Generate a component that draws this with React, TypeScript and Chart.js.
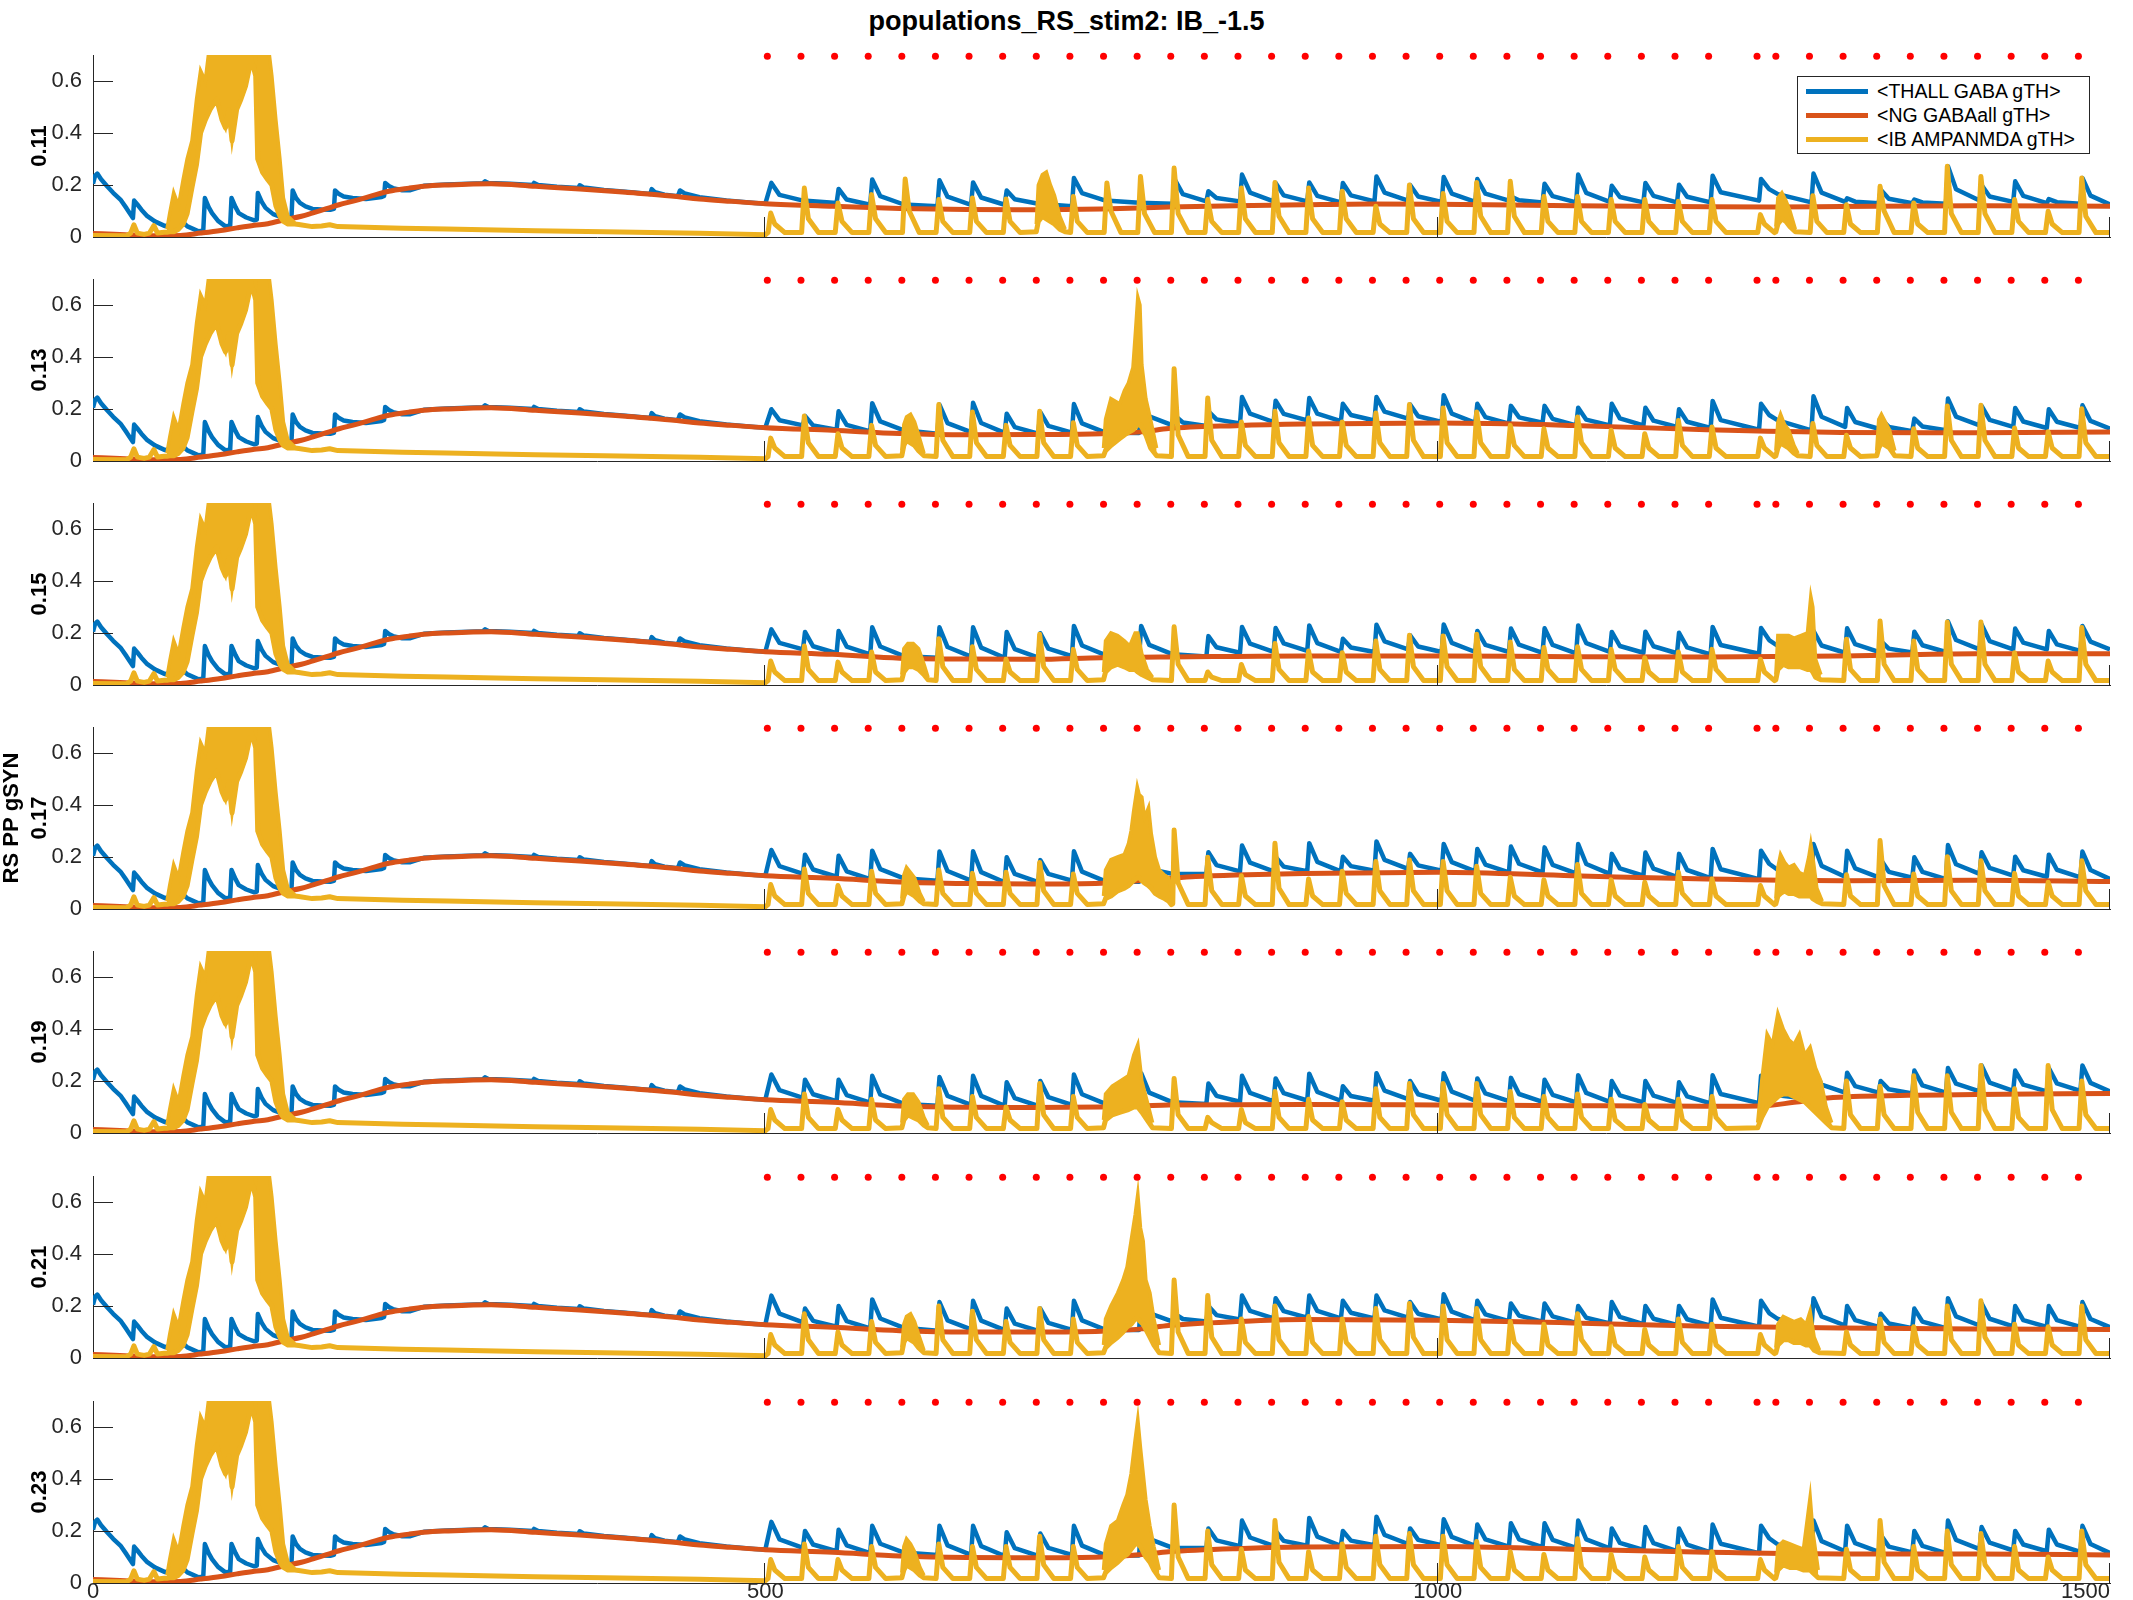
import React, { useEffect, useRef } from 'react';
import { Chart, registerables } from 'chart.js';
Chart.register(...registerables);

// ---------------- data ----------------
const TITLE = 'populations_RS_stim2: IB_-1.5';
const seriesNames = ['<THALL GABA gTH>', '<NG GABAall gTH>', '<IB AMPANMDA gTH>'];
const panelLabels: (string | string[])[] = ['0.11', '0.13', '0.15', ['RS PP gSYN', '0.17'], '0.19', '0.21', '0.23'];
const xTickValues = [0, 500, 1000, 1500];
const xTickLabels = ['0', '500', '1000', '1500'];
const yTickValues = [0, 0.2, 0.4, 0.6];
const yTickLabels = ['0', '0.2', '0.4', '0.6'];

const stimTimes = [501.5, 526.5, 551.5, 576.5, 601.5, 626.5, 651.5, 676.5, 701.5, 726.5, 751.5, 776.5, 801.5, 826.5, 851.5, 876.5, 901.5, 926.5, 951.5, 976.5, 1001.5, 1026.5, 1051.5, 1076.5, 1101.5, 1126.5, 1151.5, 1176.5, 1201.5, 1237.5, 1251.5, 1276.5, 1301.5, 1326.5, 1351.5, 1376.5, 1401.5, 1426.5, 1451.5, 1476.5];
const stimMarkerLevel = 0.695;
const yellowFloor = 0.017;

// shared first 500 ms
const earlyBlue = [[0,.205],[1.5,.235],[3.2,.244],[6,.222],[10.5,.195],[15,.17],[20.4,.144],[25,.11],[29.7,.073],[30.6,.14],[33,.125],[36,.105],[40.4,.08],[46,.06],[53.6,.042],[57.5,.045],[59.5,.1],[63,.075],[70.2,.041],[78.5,.022],[82,.024],[83.2,.15],[86,.115],[88.5,.092],[93,.062],[98.5,.041],[102,.043],[103,.15],[106,.115],[108.4,.092],[114,.075],[120,.064],[121.8,.067],[122.6,.169],[125.5,.135],[128.3,.112],[134,.088],[141.6,.073],[147.6,.075],[148.5,.179],[151,.15],[153.9,.131],[158,.118],[163.2,.108],[170,.106],[176.5,.105],[179.2,.108],[180,.179],[183,.165],[186.4,.156],[193,.15],[203,.146],[214.7,.154],[216.5,.158],[217.3,.208],[220,.196],[223,.188],[230,.18],[236,.18],[246,.197],[263,.202],[285,.206],[290,.207],[291.5,.214],[294,.208],[310,.205],[327,.2],[328,.208],[331,.2],[345,.193],[361,.188],[362,.199],[365,.19],[380,.181],[396,.174],[414.5,.165],[415.5,.184],[418,.172],[425,.163],[435,.157],[436.5,.179],[440,.168],[451,.153],[471,.14],[490,.132],[500,.128]];
const earlyOrange = [[0,.013],[20,.01],[45,.005],[65,.006],[80,.015],[95,.025],[107,.035],[120,.045],[130,.051],[143,.067],[155,.08],[163,.092],[173,.108],[183,.124],[195,.14],[206,.156],[220,.176],[235,.188],[246,.195],[263,.2],[296,.205],[329,.195],[362,.185],[396,.172],[430,.158],[451,.146],[475,.137],[500,.128]];
const earlyYellow = [[0,.006],[25,.005],[28,.015],[30.4,.047],[33,.015],[38,.01],[42,.015],[45.3,.044],[48,.015],[53,.018],[153,.048],[163,.04],[170,.042],[176,.047],[182,.04],[196,.038],[230,.034],[263,.031],[300,.027],[329,.024],[380,.02],[451,.014],[500,.009]];
const earlyYellowBurst = [[55,.018,.03],[57,.02,.09],[60,.02,.17],[63.6,.03,.12],[67,.05,.22],[70,.09,.3],[73.6,.19,.37],[77,.28,.53],[80,.4,.64],[83.5,.45,.6],[87,.49,.75],[92,.53,.75],[96,.45,.75],[98.5,.42,.75],[101,.49,.75],[103.4,.37,.75],[106.8,.49,.75],[110,.53,.75],[113.4,.58,.75],[116.7,.66,.75],[119,.66,.72],[121,.62,.68],[122.5,.3,.75],[126,.25,.75],[130,.22,.75],[133,.2,.62],[136,.12,.45],[139,.08,.3],[141.6,.06,.15],[145,.05,.08],[150,.05,.055]];

// panel 1 (0.11)
const bluePeak1 = [.208,0,.185,.221,0,.218,.210,.179,0,.227,0,0,.221,.176,.240,.208,.210,.208,.233,.200,.231,.223,.156,.205,.240,.197,.208,.201,.236,.223,0,.244,.149,.182,.144,.272,.200,.214,.146,.227];
const blueKnee1 = [.162,0,.144,.157,0,.155,.152,.145,0,.169,0,0,.165,.150,.171,.160,.158,.160,.171,.156,.167,.167,.141,.157,.170,.154,.158,.155,.172,.184,0,.171,.136,.147,.133,.184,.156,.158,.134,.159];
const blueTrough1 = [.140,.131,.124,.125,.118,.124,.124,.128,.118,.140,.132,.128,.137,.137,.137,.137,.133,.137,.140,.135,.135,.140,.133,.133,.135,.133,.133,.133,.140,.165,.133,.135,.130,.130,.128,.140,.135,.130,.128,.125];
const yellowPeak1 = [.092,.188,.131,.163,.223,.144,.150,.146,0,.156,.208,.233,.265,.144,.188,.210,.188,.176,.118,.200,.167,.210,.214,.156,.156,.144,.144,.137,.144,.086,0,.159,.124,.195,.131,.272,.233,.144,.099,.227];
const yellowShoulder1 = [.05,.07,.06,.07,.10,.06,.06,.06,0,.06,.10,.09,.09,.06,.07,.08,.07,.07,.05,.07,.06,.08,.08,.06,.06,.06,.06,.06,.06,.05,0,.06,.05,.10,.05,.09,.09,.06,.05,.08];
const burstA1 = [[701.5,.02,.05],[703,.06,.2],[706,.08,.24],[709,.07,.25],[712,.06,.2],[715,.05,.16],[719,.03,.08],[723,.02,.03]];
const burstB1 = [[1251.5,.02,.04],[1253,.05,.15],[1256,.07,.17],[1259,.06,.14],[1262,.04,.1],[1266,.02,.03]];
const orange1 = [[550,.118],[600,.11],[650,.106],[700,.105],[750,.108],[800,.115],[850,.12],[900,.124],[950,.127],[1000,.126],[1100,.12],[1200,.116],[1250,.115],[1300,.117],[1400,.12],[1500,.118]];

// panel 2 (0.13)
const bluePeak2 = [.199,.173,.191,.222,0,.217,.224,.182,.188,.219,0,.242,.175,.191,.246,.232,.242,.220,.246,.217,.253,.220,.212,.212,.205,.220,.205,.199,.231,.220,0,.249,.204,.163,.163,.240,.212,.204,.199,.214];
const blueKnee2 = [.157,.137,.139,.152,0,.146,.146,.130,.135,.145,0,.172,.148,.160,.182,.181,.182,.177,.190,.172,.182,.169,.168,.162,.159,.164,.155,.151,.157,.177,0,.170,.150,.131,.133,.171,.158,.152,.151,.154];
const blueTrough2 = [.137,.120,.114,.118,.105,.111,.108,.105,.109,.109,.108,.137,.135,.144,.150,.156,.153,.156,.163,.150,.147,.144,.147,.137,.137,.137,.131,.127,.120,.156,.118,.131,.124,.115,.118,.137,.131,.127,.127,.124];
const yellowPeak2 = [.088,.173,.105,.137,0,.217,.188,.137,.191,.147,0,0,.355,.242,.150,.191,.165,.150,.185,.217,.204,.188,.137,.124,.169,.118,.105,.156,.131,.088,0,.144,.099,0,.124,.212,.214,.127,.112,.201];
const yellowShoulder2 = [.05,.07,.05,.06,0,.08,.07,.06,.07,.06,0,0,.10,.08,.06,.07,.06,.06,.07,.08,.07,.07,.06,.05,.07,.05,.05,.06,.05,.05,0,.06,.05,0,.05,.08,.08,.05,.05,.07];
const burstA2 = [[601.5,.02,.04],[603,.06,.14],[605,.08,.17],[608,.07,.18],[611,.06,.15],[614,.04,.1],[618,.02,.03]];
const burstB2 = [[751.5,.02,.05],[753,.04,.16],[757,.06,.24],[763.5,.086,.22],[767,.1,.27],[770,.11,.3],[773.4,.12,.36],[775.3,.13,.5],[777,.14,.63],[778.6,.14,.6],[780,.13,.37],[783,.1,.24],[786.5,.05,.16],[791,.02,.05]];
const burstC2 = [[1251.5,.02,.04],[1253,.05,.15],[1255,.07,.18],[1258,.06,.14],[1261,.05,.12],[1265,.03,.06],[1268,.02,.03]];
const burstD2 = [[1326.5,.02,.04],[1328,.05,.16],[1330,.07,.18],[1333,.06,.15],[1336,.05,.12],[1340,.02,.04]];
const orange2 = [[550,.118],[600,.106],[650,.101],[700,.102],[750,.105],[780,.112],[800,.125],[850,.136],[900,.142],[1000,.146],[1100,.137],[1200,.12],[1300,.11],[1400,.109],[1500,.112]];

// panel 3 (0.15)
const bluePeak3 = [.214,.204,.208,.222,0,.222,.222,.204,.199,.227,0,.227,0,.188,.223,.219,.229,.178,.232,.191,.233,.208,.217,.218,.229,.204,.205,.201,.223,.219,0,.208,.218,.170,.205,.245,.233,.217,.208,.227];
const blueKnee3 = [.162,.149,.148,.148,0,.146,.144,.138,.140,.152,0,.154,0,.145,.159,.160,.161,.144,.168,.148,.162,.154,.155,.154,.161,.150,.149,.145,.154,.173,0,.152,.157,.140,.153,.173,.169,.163,.156,.167];
const blueTrough3 = [.137,.122,.118,.111,.105,.109,.105,.105,.111,.115,.110,.118,.110,.124,.127,.131,.127,.127,.137,.127,.127,.127,.124,.122,.127,.124,.122,.118,.120,.150,.120,.124,.127,.125,.127,.137,.137,.137,.131,.137];
const yellowPeak3 = [.092,.150,.088,.127,0,.178,.147,.099,.195,.137,0,0,.224,.050,.079,.160,.131,.124,.169,.191,.188,.195,.165,.144,.147,.137,.105,.127,.137,.099,0,0,.176,.246,.169,.242,.242,.124,.092,.221];
const yellowShoulder3 = [.05,.06,.05,.05,0,.07,.06,.05,.07,.06,0,0,.08,.03,.04,.06,.05,.05,.06,.07,.07,.07,.06,.06,.06,.06,.05,.05,.06,.05,0,0,.06,.08,.06,.08,.08,.05,.05,.08];
const burstA3 = [[601.5,.02,.04],[603,.05,.14],[606,.07,.16],[610,.07,.16],[614,.06,.14],[618,.04,.08],[621,.02,.03]];
const burstB3 = [[751.5,.02,.05],[753,.05,.17],[757,.07,.2],[762,.08,.19],[767,.07,.17],[771,.06,.15],[775,.06,.2],[777,.05,.2],[780,.04,.12],[784,.03,.06],[788,.02,.03]];
const burstC3 = [[1251.5,.02,.04],[1253,.06,.19],[1257,.08,.19],[1261,.07,.19],[1265,.07,.18],[1270,.07,.19],[1275,.06,.2],[1277.5,.06,.34],[1279,.05,.3],[1281,.03,.1],[1285,.02,.04]];
const orange3 = [[550,.118],[600,.103],[650,.1],[700,.099],[750,.105],[800,.108],[850,.11],[900,.112],[1000,.112],[1100,.109],[1200,.108],[1300,.112],[1400,.12],[1500,.12]];

// panel 4 (0.17)
const bluePeak4 = [.227,.209,.205,.224,0,.221,.222,.199,.188,.222,0,.192,0,.218,.244,.200,.253,.201,.260,.212,.250,.231,.240,.237,.250,.212,.217,.212,.231,.224,0,.250,.224,.190,.199,.246,.218,.201,.209,.221];
const blueKnee4 = [.165,.152,.145,.153,0,.146,.142,.135,.135,.144,0,.154,0,.169,.178,.163,.181,.165,.189,.168,.180,.171,.174,.170,.173,.156,.155,.150,.153,.174,0,.166,.156,.143,.143,.172,.158,.149,.151,.150];
const blueTrough4 = [.135,.124,.115,.118,.109,.109,.103,.103,.109,.106,.105,.135,.135,.145,.145,.145,.145,.147,.154,.147,.145,.141,.141,.137,.135,.128,.124,.119,.115,.150,.118,.124,.122,.120,.115,.135,.128,.124,.122,.115];
const yellowPeak4 = [.094,.154,.090,.145,0,.150,.137,.141,.179,.135,0,0,.304,.199,.128,.253,.115,.145,.183,.188,.183,.164,.122,.112,.171,.112,.103,.141,.115,.090,0,0,.132,.263,.135,.201,.186,.137,.103,.186];
const yellowShoulder4 = [.05,.06,.05,.06,0,.06,.06,.06,.07,.06,0,0,.10,.07,.05,.08,.05,.06,.07,.07,.07,.06,.05,.05,.06,.05,.05,.06,.05,.05,0,0,.05,.09,.05,.07,.07,.05,.05,.07];
const burstA4 = [[601.5,.02,.04],[603,.05,.13],[605,.07,.16],[608,.06,.14],[611,.05,.12],[615,.03,.06],[618,.02,.03]];
const burstB4 = [[751.5,.02,.05],[753,.04,.15],[757,.05,.19],[762,.07,.2],[767,.08,.21],[770,.09,.25],[772,.1,.3],[774,.11,.38],[776.6,.12,.47],[778,.12,.44],[780,.11,.43],[782,.1,.35],[785,.09,.39],[787,.08,.29],[790,.06,.2],[793,.05,.15],[797,.04,.13],[800,.03,.12],[803,.02,.04]];
const burstC4 = [[1251.5,.02,.04],[1253,.05,.16],[1255,.06,.21],[1258,.07,.18],[1261,.06,.16],[1265,.06,.17],[1269,.05,.14],[1273,.05,.13],[1276,.05,.2],[1277.5,.05,.25],[1279,.04,.2],[1282,.03,.08],[1286,.02,.03]];
const orange4 = [[550,.118],[600,.104],[650,.098],[700,.096],[750,.099],[777,.109],[800,.118],[820,.125],[850,.131],[900,.137],[1000,.141],[1100,.128],[1200,.115],[1300,.109],[1400,.111],[1500,.106]];

// panel 5 (0.19)
const bluePeak5 = [.225,.205,.205,.22,0,.215,.22,.195,.2,.225,0,.23,0,.19,.22,.21,.228,.18,.23,.2,.23,.21,.212,.205,.222,.2,.2,.195,.222,.22,0,.25,.232,.2,.24,.25,.26,.24,.25,.26];
const blueKnee5 = [.165,.149,.146,.148,0,.143,.143,.134,.138,.149,0,.155,0,.143,.154,.153,.158,.142,.163,.149,.159,.152,.150,.147,.154,.145,.144,.141,.150,.170,0,.186,.180,.168,.183,.190,.194,.186,.191,.193];
const blueTrough5 = [.135,.122,.117,.112,.105,.108,.105,.104,.108,.112,.108,.118,.112,.12,.122,.125,.124,.124,.13,.124,.124,.123,.12,.118,.12,.118,.116,.114,.115,.145,.13,.155,.155,.152,.155,.16,.162,.16,.162,.16];
const yellowPeak5 = [.09,.15,.09,.13,0,.17,.14,.1,.19,.14,0,0,.21,.06,.09,.16,.13,.12,.17,.19,.19,.19,.16,.14,.15,.13,.11,.13,.14,0,0,0,.2,.18,.22,.22,.26,.17,.26,.2];
const yellowShoulder5 = [.05,.06,.05,.05,0,.06,.06,.05,.07,.06,0,0,.07,.04,.04,.06,.05,.05,.06,.07,.07,.07,.06,.06,.06,.05,.05,.05,.06,0,0,0,.07,.07,.08,.08,.09,.06,.09,.07];
const burstA5 = [[601.5,.02,.04],[603,.05,.13],[606,.07,.15],[610,.06,.15],[614,.05,.12],[618,.03,.06],[621,.02,.03]];
const burstB5 = [[751.5,.02,.05],[753,.05,.15],[758,.07,.18],[764,.08,.2],[770,.09,.22],[774,.1,.3],[777,.1,.34],[780,.08,.2],[784,.05,.12],[788,.02,.04]];
const burstC5 = [[1238,.02,.04],[1241,.06,.2],[1245,.1,.38],[1249,.12,.34],[1253,.14,.46],[1257,.15,.4],[1261,.15,.36],[1265,.14,.34],[1269,.13,.38],[1273,.12,.3],[1277,.1,.33],[1281,.08,.25],[1285,.06,.2],[1289,.04,.1],[1293,.02,.04]];
const orange5 = [[550,.118],[600,.104],[650,.099],[700,.098],[750,.1],[780,.104],[800,.108],[900,.11],[1000,.108],[1100,.105],[1200,.103],[1240,.104],[1265,.118],[1290,.135],[1350,.145],[1400,.148],[1500,.152]];

// panel 6 (0.21)
const bluePeak6 = [.24,.19,.2,.225,0,.215,.22,.19,.19,.22,0,.24,.17,.2,.24,.23,.24,.22,.24,.215,.245,.22,.21,.21,.2,.215,.2,.2,.225,.22,0,.23,.2,.17,.19,.23,.21,.2,.2,.215];
const blueKnee6 = [.171,.143,.142,.152,0,.145,.144,.132,.135,.145,0,.173,.150,.165,.181,.180,.181,.174,.183,.170,.178,.168,.163,.160,.155,.158,.151,.149,.155,.173,0,.160,.146,.133,.140,.160,.151,.146,.146,.150];
const blueTrough6 = [.137,.12,.114,.116,.105,.11,.107,.104,.108,.108,.108,.14,.14,.148,.152,.155,.152,.152,.155,.148,.145,.142,.14,.135,.133,.13,.127,.124,.12,.15,.118,.125,.12,.115,.115,.125,.122,.12,.12,.118];
const yellowPeak6 = [.09,.17,.1,.14,0,.2,.18,.14,.19,.15,0,0,.3,.24,.15,.2,.16,.15,.19,.21,.2,.19,.14,.13,.17,.12,.11,.15,.13,.09,0,0,.1,.15,.12,.2,.22,.13,.12,.2];
const yellowShoulder6 = [.05,.07,.05,.06,0,.07,.07,.06,.07,.06,0,0,.1,.08,.06,.07,.06,.06,.07,.08,.07,.07,.06,.05,.07,.05,.05,.06,.05,.05,0,0,.05,.06,.05,.07,.08,.05,.05,.07];
const burstA6 = [[601.5,.02,.04],[603,.06,.13],[605,.08,.16],[608,.07,.17],[611,.06,.14],[614,.04,.09],[618,.02,.03]];
const burstB6 = [[751.5,.02,.05],[753,.04,.15],[757,.06,.2],[762,.08,.25],[766,.1,.3],[769,.12,.35],[772,.13,.45],[775,.15,.55],[777,.15,.63],[779,.14,.5],[781,.13,.45],[783,.11,.3],[786,.08,.25],[789,.05,.15],[793,.02,.05]];
const burstC6 = [[1251.5,.02,.04],[1253,.05,.13],[1257,.07,.16],[1261,.07,.15],[1265,.06,.14],[1270,.06,.15],[1274,.05,.13],[1277,.05,.18],[1280,.03,.08],[1284,.02,.03]];
const orange6 = [[550,.118],[600,.105],[650,.1],[700,.1],[750,.103],[780,.112],[800,.125],[850,.14],[900,.148],[1000,.145],[1100,.135],[1200,.122],[1300,.115],[1400,.112],[1500,.11]];

// panel 7 (0.23)
const bluePeak7 = [.235,.2,.205,.22,0,.22,.22,.195,.19,.22,0,.24,0,.21,.24,.2,.25,.2,.255,.21,.245,.225,.23,.23,.24,.21,.215,.21,.225,.22,0,.24,.22,.185,.2,.24,.215,.2,.205,.22];
const blueKnee7 = [.168,.148,.145,.151,0,.145,.142,.134,.135,.144,0,.170,0,.164,.175,.162,.178,.163,.185,.166,.177,.168,.168,.166,.168,.154,.153,.148,.151,.172,0,.161,.153,.140,.143,.166,.155,.148,.148,.150];
const blueTrough7 = [.135,.122,.115,.117,.108,.108,.104,.104,.108,.106,.106,.135,.135,.142,.143,.143,.143,.145,.15,.145,.143,.14,.138,.135,.133,.127,.123,.118,.115,.148,.116,.122,.12,.118,.115,.13,.125,.122,.12,.115];
const yellowPeak7 = [.09,.15,.09,.14,0,.15,.14,.14,.18,.14,0,0,.3,.2,.13,.24,.12,.15,.18,.19,.18,.16,.12,.11,.17,.11,.1,.14,.12,.09,0,0,.13,.24,.14,.2,.19,.14,.1,.2];
const yellowShoulder7 = [.05,.06,.05,.06,0,.06,.06,.06,.07,.06,0,0,.1,.07,.05,.08,.05,.06,.07,.07,.07,.06,.05,.05,.06,.05,.05,.06,.05,.05,0,0,.05,.08,.05,.07,.07,.05,.05,.07];
const burstA7 = [[601.5,.02,.04],[603,.05,.14],[605,.07,.17],[608,.06,.15],[611,.05,.12],[615,.03,.06],[618,.02,.03]];
const burstB7 = [[751.5,.02,.05],[753,.04,.15],[757,.06,.22],[762,.08,.24],[766,.1,.3],[769,.11,.34],[772,.13,.42],[775,.15,.55],[777,.15,.63],[779,.14,.52],[781,.12,.42],[783,.1,.32],[786,.08,.22],[789,.05,.14],[793,.02,.05]];
const burstC7 = [[1251.5,.02,.04],[1253,.05,.14],[1257,.07,.16],[1262,.06,.15],[1267,.06,.14],[1272,.05,.13],[1275,.05,.25],[1277,.05,.33],[1279,.04,.2],[1283,.02,.05]];
const orange7 = [[550,.118],[600,.104],[650,.098],[700,.097],[750,.1],[780,.11],[800,.12],[850,.132],[900,.138],[1000,.14],[1100,.13],[1200,.118],[1300,.112],[1400,.112],[1500,.108]];

const BLUE = '#0072BD';
const ORANGE = '#D95319';
const YELLOW = '#EDB120';
const RED = '#FF0000';
const AXIS = '#262626';
const FONT = "'Liberation Sans', Arial, sans-serif";

const panels = [
  { bluePeak: bluePeak1, blueKnee: blueKnee1, blueTrough: blueTrough1, yellowPeak: yellowPeak1, yellowShoulder: yellowShoulder1, bursts: [burstA1, burstB1], orange: orange1 },
  { bluePeak: bluePeak2, blueKnee: blueKnee2, blueTrough: blueTrough2, yellowPeak: yellowPeak2, yellowShoulder: yellowShoulder2, bursts: [burstA2, burstB2, burstC2, burstD2], orange: orange2 },
  { bluePeak: bluePeak3, blueKnee: blueKnee3, blueTrough: blueTrough3, yellowPeak: yellowPeak3, yellowShoulder: yellowShoulder3, bursts: [burstA3, burstB3, burstC3], orange: orange3 },
  { bluePeak: bluePeak4, blueKnee: blueKnee4, blueTrough: blueTrough4, yellowPeak: yellowPeak4, yellowShoulder: yellowShoulder4, bursts: [burstA4, burstB4, burstC4], orange: orange4 },
  { bluePeak: bluePeak5, blueKnee: blueKnee5, blueTrough: blueTrough5, yellowPeak: yellowPeak5, yellowShoulder: yellowShoulder5, bursts: [burstA5, burstB5, burstC5], orange: orange5 },
  { bluePeak: bluePeak6, blueKnee: blueKnee6, blueTrough: blueTrough6, yellowPeak: yellowPeak6, yellowShoulder: yellowShoulder6, bursts: [burstA6, burstB6, burstC6], orange: orange6 },
  { bluePeak: bluePeak7, blueKnee: blueKnee7, blueTrough: blueTrough7, yellowPeak: yellowPeak7, yellowShoulder: yellowShoulder7, bursts: [burstA7, burstB7, burstC7], orange: orange7 },
];

// ---------------- layout ----------------
const PANEL_TOPS = [55, 279, 503, 727, 951, 1176, 1401];
const PLOT_H = 182;
const X_LABEL_H = 1600 - PANEL_TOPS[6] - PLOT_H;
function geom(i: number) {
  if (i === 6) {
    const top = PANEL_TOPS[6] - 25;
    return { top, h: 1600 - top, padTop: 25, padBottom: 0, xh: X_LABEL_H };
  }
  return { top: PANEL_TOPS[i] - 25, h: 25 + PLOT_H + 25, padTop: 25, padBottom: 25, xh: 0 };
}

// ---------------- builders ----------------
function buildBlue(p: any) {
  const pts = earlyBlue.map(([x, y]) => ({ x, y }));
  stimTimes.forEach((t, k) => {
    const tn = k + 1 < stimTimes.length ? stimTimes[k + 1] : 1500;
    if (p.bluePeak[k] > 0) {
      pts.push({ x: t + 3, y: p.bluePeak[k] });
      pts.push({ x: t + 9, y: p.blueKnee[k] });
    }
    pts.push({ x: Math.min(tn + 1.5, 1500), y: p.blueTrough[k] });
  });
  return pts;
}
function buildYellow(p: any) {
  const pts = earlyYellow.map(([x, y]) => ({ x, y }));
  stimTimes.forEach((t, k) => {
    if (p.yellowPeak[k] > 0) {
      pts.push({ x: t + 0.5, y: yellowFloor }, { x: t + 2.5, y: p.yellowPeak[k] }, { x: t + 5.5, y: p.yellowShoulder[k] }, { x: t + 13, y: yellowFloor });
    }
  });
  [earlyYellowBurst, ...p.bursts].forEach((b: number[][]) => b.forEach(([x, lo]) => pts.push({ x, y: lo })));
  pts.push({ x: 1500, y: yellowFloor });
  return pts.sort((a, b) => a.x - b.x);
}
function buildOrange(p: any) {
  return [...earlyOrange, ...p.orange].map(([x, y]) => ({ x, y }));
}

const inwardTicks = {
  id: 'inwardTicks',
  afterLayout(chart: any) {
    // the right-aligned "1500" label axis shares the band just under the plot
    const s = chart.scales.xEnd;
    if (s) { s.top = chart.chartArea.bottom; s.bottom = s.top + X_LABEL_H; }
  },
  afterDatasetsDraw(chart: any) {
    const { ctx, chartArea, scales } = chart;
    ctx.save();
    ctx.strokeStyle = AXIS;
    ctx.lineWidth = 1;
    ctx.beginPath();
    yTickValues.forEach((v) => {
      if (v === 0) return;
      const y = Math.round(scales.y.getPixelForValue(v)) + 0.5;
      ctx.moveTo(chartArea.left, y);
      ctx.lineTo(chartArea.left + 20, y);
    });
    xTickValues.forEach((v) => {
      if (v === 0) return;
      const x = Math.round(scales.x.getPixelForValue(v)) - 0.5;
      ctx.moveTo(x, chartArea.bottom);
      ctx.lineTo(x, chartArea.bottom - 20);
    });
    ctx.stroke();
    ctx.restore();
  },
};

function makeDatasets(p: any) {
  const ds: any[] = [];
  ds.push({
    label: 'stim', data: stimTimes.map((t) => ({ x: t, y: stimMarkerLevel })), showLine: false,
    pointRadius: 3.5, pointBackgroundColor: RED, pointBorderWidth: 0, pointBorderColor: RED, order: 0, clip: false,
  });
  ds.push({ label: seriesNames[2], data: buildYellow(p), borderColor: YELLOW, borderWidth: 5, pointRadius: 0, order: 1, clip: 0, borderJoinStyle: 'round' });
  [earlyYellowBurst, ...p.bursts].forEach((b: number[][]) => {
    ds.push({ label: 'band', data: b.map(([x, , hi]) => ({ x, y: hi })), borderColor: YELLOW, backgroundColor: YELLOW, borderWidth: 3.5, pointRadius: 0, fill: '+1', order: 1, clip: 0 });
    ds.push({ label: 'band', data: b.map(([x, lo]) => ({ x, y: lo })), borderColor: YELLOW, borderWidth: 3.5, pointRadius: 0, fill: false, order: 1, clip: 0 });
  });
  ds.push({ label: seriesNames[1], data: buildOrange(p), borderColor: ORANGE, borderWidth: 5, pointRadius: 0, order: 2, cubicInterpolationMode: 'monotone' });
  ds.push({ label: seriesNames[0], data: buildBlue(p), borderColor: BLUE, borderWidth: 4.5, pointRadius: 0, order: 3, borderJoinStyle: 'round' });
  return ds;
}

function makeConfig(p: any, i: number): any {
  const g = geom(i);
  const isLast = i === 6;
  const label = panelLabels[i];
  const multi = Array.isArray(label);
  const tickFont = { family: FONT, size: 22 };
  return {
    type: 'line',
    data: { datasets: makeDatasets(p) },
    options: {
      responsive: false, animation: false, devicePixelRatio: 1, events: [],
      layout: { padding: { left: 0, right: 23, top: g.padTop, bottom: g.padBottom } },
      plugins: {
        legend: { display: false },
        tooltip: { enabled: false },
        title: { display: false },
      },
      scales: {
        x: {
          type: 'linear', min: 0, max: 1500, position: 'bottom', weight: 0,
          grid: { display: false, drawTicks: false },
          border: { display: true, color: AXIS, width: 1 },
          afterBuildTicks: (s: any) => { s.ticks = xTickValues.slice(0, 3).map((v) => ({ value: v })); },
          ticks: {
            display: isLast, autoSkip: false, maxRotation: 0, padding: -4, color: AXIS, align: 'center',
            font: tickFont,
            callback: (v: number) => xTickLabels[xTickValues.indexOf(v)] ?? '',
          },
          afterFit: (s: any) => { s.height = g.xh; s.paddingLeft = 0; s.paddingRight = 0; },
        },
        xEnd: {
          type: 'linear', min: 0, max: 1500, position: 'bottom', display: isLast, weight: 5,
          grid: { display: false, drawTicks: false },
          border: { display: false },
          afterBuildTicks: (s: any) => { s.ticks = xTickValues.slice(3).map((v) => ({ value: v })); },
          ticks: {
            display: isLast, autoSkip: false, maxRotation: 0, padding: -4, color: AXIS, align: 'end',
            font: tickFont,
            callback: (v: number) => xTickLabels[xTickValues.indexOf(v)] ?? '',
          },
          afterFit: (s: any) => { s.height = 0; s.paddingLeft = 0; s.paddingRight = 0; },
        },
        y: {
          type: 'linear', min: 0, max: 0.7,
          grid: { display: false, drawTicks: false },
          border: { display: true, color: AXIS, width: 1 },
          afterBuildTicks: (s: any) => { s.ticks = yTickValues.map((v) => ({ value: v })); },
          ticks: {
            autoSkip: false, padding: 11, color: AXIS,
            font: tickFont,
            callback: (v: number) => yTickLabels[yTickValues.indexOf(v)] ?? '',
          },
          title: {
            display: true, text: label, color: '#000',
            font: { family: FONT, size: 22, weight: 'bold', lineHeight: 1.25 },
            padding: { top: multi ? -1.75 : 25.75, bottom: 0 },
          },
          afterFit: (s: any) => { s.width = 93; s.paddingTop = 0; s.paddingBottom = 0; },
        },
      },
    },
    plugins: [inwardTicks],
  };
}

function Legend() {
  const colors = [BLUE, ORANGE, YELLOW];
  return (
    <div style={{ position: 'absolute', left: 1797, top: 76, width: 293, height: 78, border: '1px solid #262626', background: '#fff', boxSizing: 'border-box', fontFamily: FONT, fontSize: 19.5, color: '#000' }}>
      {seriesNames.map((n, j) => (
        <div key={j} style={{ position: 'absolute', left: 0, top: 2 + 24 * j, height: 24, display: 'flex', alignItems: 'center' }}>
          <span style={{ display: 'inline-block', marginLeft: 8, width: 62, height: 5, background: colors[j] }} />
          <span style={{ marginLeft: 9, whiteSpace: 'nowrap', lineHeight: '24px' }}>{n}</span>
        </div>
      ))}
    </div>
  );
}

export default function App() {
  const refs = useRef<(HTMLCanvasElement | null)[]>([]);
  useEffect(() => {
    const charts = panels.map((p, i) => new Chart(refs.current[i] as HTMLCanvasElement, makeConfig(p, i)));
    return () => charts.forEach((c) => c.destroy());
  }, []);
  return (
    <div style={{ position: 'absolute', left: 0, top: 0, width: 2133, height: 1600, background: '#fff', overflow: 'hidden' }}>
      <div style={{ position: 'absolute', left: 0, top: 7, width: 2133, height: 28, lineHeight: '28px', textAlign: 'center', fontFamily: FONT, fontWeight: 'bold', fontSize: 27, color: '#000', whiteSpace: 'nowrap' }}>{TITLE}</div>
      {panels.map((_, i) => {
        const g = geom(i);
        return (
          <canvas key={i} ref={(el) => { refs.current[i] = el; }} width={2133} height={g.h}
            style={{ position: 'absolute', left: 0, top: g.top, width: 2133, height: g.h }} />
        );
      })}
      <Legend />
    </div>
  );
}
